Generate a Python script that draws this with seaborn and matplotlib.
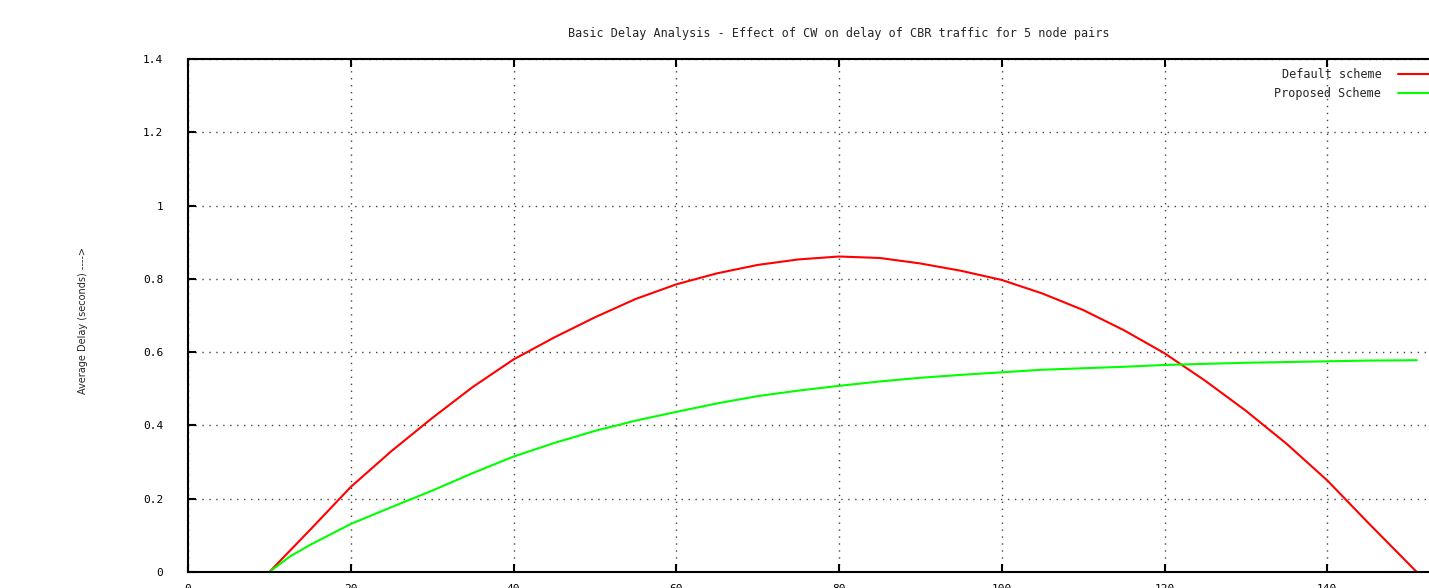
import pandas as pd
import matplotlib.pyplot as plt
import seaborn as sns

# values
cw_default = [10, 15, 20, 25, 30, 35, 40, 45, 50, 55, 60, 65, 70, 75, 80, 85, 90,
              95, 100, 105, 110, 115, 120, 125, 130, 135, 140, 145, 151]
delay_default = [0.0, 0.115, 0.232, 0.33, 0.42, 0.505, 0.58, 0.64, 0.695, 0.745,
                 0.785, 0.815, 0.838, 0.853, 0.861, 0.857, 0.842, 0.822, 0.797, 0.76,
                 0.715, 0.66, 0.597, 0.522, 0.44, 0.35, 0.25, 0.135, 0.0]
cw_proposed = [10, 12.5, 15, 20, 25, 30, 35, 40, 45, 50, 55, 60, 65, 70, 75, 80, 85,
               90, 95, 100, 105, 110, 115, 120, 125, 130, 135, 140, 145, 151]
delay_proposed = [0.0, 0.042, 0.074, 0.131, 0.177, 0.222, 0.27, 0.315, 0.352, 0.385,
                  0.413, 0.437, 0.46, 0.48, 0.495, 0.508, 0.52, 0.53, 0.538, 0.545,
                  0.552, 0.556, 0.56, 0.565, 0.568, 0.571, 0.573, 0.575, 0.577, 0.578]
series = ['Default scheme', 'Proposed Scheme']
colors = ['#ff0000', '#00ff00']
x_ticks = [0, 20, 40, 60, 80, 100, 120, 140, 160]
y_ticks = [0, 0.2, 0.4, 0.6, 0.8, 1.0, 1.2, 1.4]
y_ticklabels = ['0', '0.2', '0.4', '0.6', '0.8', '1', '1.2', '1.4']

df = pd.concat([
    pd.DataFrame({'cw': cw_default, 'delay': delay_default, 'scheme': series[0]}),
    pd.DataFrame({'cw': cw_proposed, 'delay': delay_proposed, 'scheme': series[1]}),
])

sns.set_style('ticks')
plt.rcParams['font.family'] = ['DejaVu Sans Mono']

fig = plt.figure(figsize=(14.29, 5.88), dpi=100)
ax = fig.add_axes([188 / 1429, 16 / 588, 1302 / 1429, 513 / 588])

sns.lineplot(data=df, x='cw', y='delay', hue='scheme', palette=dict(zip(series, colors)),
             errorbar=None, linewidth=1.5, ax=ax)

ax.set_xlim(0, 160)
ax.set_ylim(0, 1.4)
ax.set_xticks(x_ticks)
ax.set_yticks(y_ticks)
ax.set_yticklabels(y_ticklabels)
ax.tick_params(axis='both', direction='in', length=6, width=1.5, labelsize=8, colors='black')
ax.tick_params(axis='y', pad=18)
ax.tick_params(axis='x', pad=9, top=True)
ax.grid(True, linestyle=(0, (1, 4)), color='#444444', linewidth=1)
for s in ax.spines.values():
    s.set_visible(True)
    s.set_linewidth(1.5)
    s.set_color('black')

ax.set_xlabel('')
ax.set_ylabel('Average Delay (seconds) ---->', fontsize=7, family='DejaVu Sans')
ax.yaxis.set_label_coords(-0.077, 0.49)
ax.set_title('Basic Delay Analysis - Effect of CW on delay of CBR traffic for 5 node pairs',
             fontsize=8.5, pad=16)

handles, labels = ax.get_legend_handles_labels()
ax.legend(handles, labels, loc='upper right', bbox_to_anchor=(1445 / 1429, 1 - 68 / 588),
          bbox_transform=fig.transFigure, markerfirst=False, frameon=False,
          fontsize=8.5, handlelength=4, handletextpad=1.4, labelspacing=0.55,
          borderaxespad=0, borderpad=0)

fig.savefig('out.png', dpi=100)
